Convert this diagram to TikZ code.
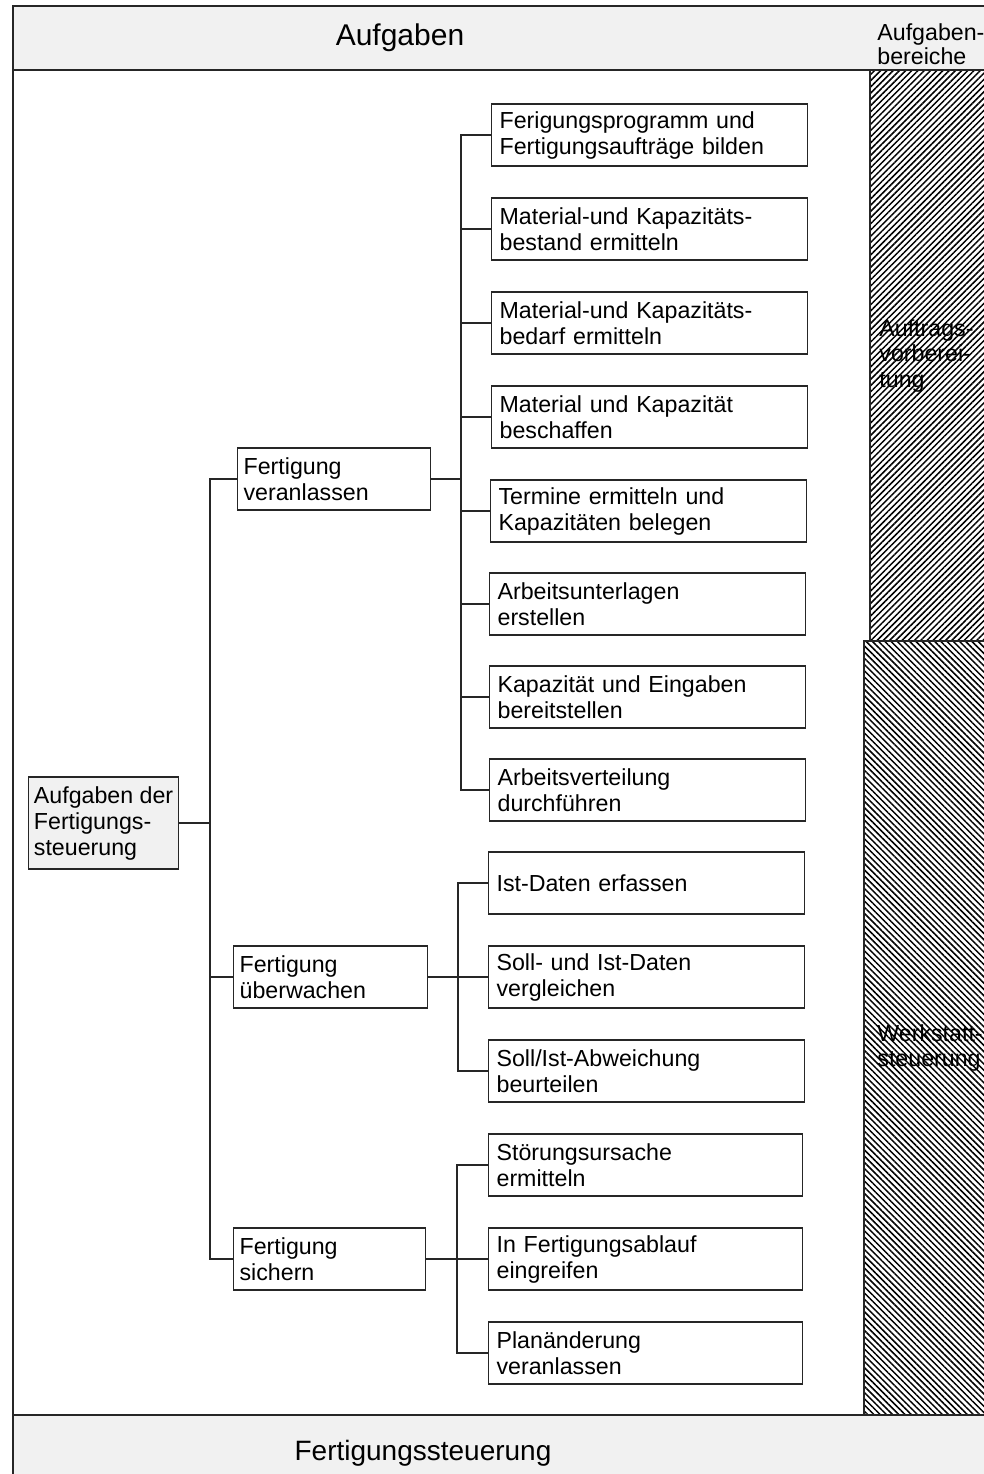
\documentclass[tikz,border=0pt]{standalone}
\usepackage{fontspec}
\setmainfont{Liberation Sans}
\usetikzlibrary{patterns.meta}

\tikzset{
  frameline/.style={line width=0.8pt, draw=black!85},
  band/.style={frameline, fill=gray!11},
  link/.style={line width=0.6pt, draw=black!85},
  box/.style={draw=black!85, line width=0.6pt, rectangle, align=left,
    inner ysep=0pt, minimum height=31pt, anchor=west,
    font=\fontsize{11.6pt}{13pt}\selectfont},
  task/.style={box, inner xsep=4pt, text width=150pt},
  phase/.style={box, inner xsep=3pt, text width=90.5pt},
  rootbox/.style={box, fill=gray!11, inner xsep=0pt, minimum width=75pt, minimum height=46pt},
  sidelabel/.style={anchor=west, align=left, inner sep=0pt,
    font=\fontsize{11.6pt}{12.8pt}\selectfont},
  hatchup/.style={frameline, pattern={Lines[angle=45, distance=2.2pt, line width=0.75pt]}},
  hatchdown/.style={frameline, pattern={Lines[angle=-45, distance=2.2pt, line width=0.75pt]}}
}

\begin{document}
\begin{tikzpicture}[x=0.5pt, y=-0.5pt]
\useasboundingbox (0,0) rectangle (984,1474);
\clip (0,0) rectangle (984,1474);

% header and footer bands
\draw[band] (13,6) rectangle (1000,70);
\draw[band] (13,1415) rectangle (1000,1490);
\draw[frameline] (13,70) -- (13,1415);

\node[anchor=center, font=\fontsize{15pt}{18pt}\selectfont] (head) at (400,38) {Aufgaben};
\node[anchor=center, font=\fontsize{14pt}{17pt}\selectfont] (foot) at (423,1453) {Fertigungssteuerung};
\node[sidelabel, font=\fontsize{11.6pt}{10.3pt}\selectfont] (areas) at (877,44) {Aufgaben-\\bereiche};

% hatched column of task areas
\draw[hatchup] (870,70) rectangle (1000,641);
\draw[hatchdown] (864,641) rectangle (1000,1415);
\node[sidelabel] (areaA) at (879,356) {Auftrags-\\vorberei-\\tung};
\node[sidelabel] (areaB) at (877,1048) {Werkstatt-\\steuerung};

% root
\node[rootbox] (root) at (28,823) {Aufgaben der\\Fertigungs-\\steuerung};

% second level
\node[phase] (ver) at (237,479) {Fertigung\\veranlassen};
\node[phase, text width=91pt] (ueb) at (233,977) {Fertigung\\überwachen};
\node[phase, text width=90pt] (sic) at (233,1259) {Fertigung\\sichern};

% third level
\node[task] (a1) at (491,135) {Ferigungsprogramm und\\Fertigungsaufträge bilden};
\node[task] (a2) at (491,229) {Material-und Kapazitäts-\\bestand ermitteln};
\node[task] (a3) at (491,323) {Material-und Kapazitäts-\\bedarf ermitteln};
\node[task] (a4) at (491,417) {Material und Kapazität\\beschaffen};
\node[task] (a5) at (490,511) {Termine ermitteln und\\Kapazitäten belegen};
\node[task] (a6) at (489,604) {Arbeitsunterlagen\\erstellen};
\node[task] (a7) at (489,697) {Kapazität und Eingaben\\bereitstellen};
\node[task] (a8) at (489,790) {Arbeitsverteilung\\durchführen};

\node[task] (b1) at (488,883) {Ist-Daten erfassen};
\node[task] (b2) at (488,977) {Soll- und Ist-Daten\\vergleichen};
\node[task] (b3) at (488,1071) {Soll/Ist-Abweichung\\beurteilen};

\node[task, text width=149pt] (c1) at (488,1165) {Störungsursache\\ermitteln};
\node[task, text width=149pt] (c2) at (488,1259) {In Fertigungsablauf\\eingreifen};
\node[task, text width=149pt] (c3) at (488,1353) {Planänderung\\veranlassen};

% vertical buses
\coordinate (bus0) at (210,0);
\coordinate (busA) at (461,0);
\coordinate (busB) at (458,0);
\coordinate (busC) at (457,0);

% root to second level
\draw[link] (root.east) -- (root.east -| bus0);
\draw[link] (ver.west) -- (ver.west -| bus0) -- (sic.west -| bus0) -- (sic.west);
\draw[link] (ueb.west) -- (ueb.west -| bus0);

% Fertigung veranlassen
\draw[link] (ver.east) -- (ver.east -| busA);
\draw[link] (a1.west) -- (a1.west -| busA) -- (a8.west -| busA) -- (a8.west);
\foreach \n in {a2,a3,a4,a5,a6,a7}
  \draw[link] (\n.west) -- (\n.west -| busA);

% Fertigung überwachen
\draw[link] (ueb.east) -- (ueb.east -| busB);
\draw[link] (b1.west) -- (b1.west -| busB) -- (b3.west -| busB) -- (b3.west);
\draw[link] (b2.west) -- (b2.west -| busB);

% Fertigung sichern
\draw[link] (sic.east) -- (sic.east -| busC);
\draw[link] (c1.west) -- (c1.west -| busC) -- (c3.west -| busC) -- (c3.west);
\draw[link] (c2.west) -- (c2.west -| busC);
\end{tikzpicture}
\end{document}
